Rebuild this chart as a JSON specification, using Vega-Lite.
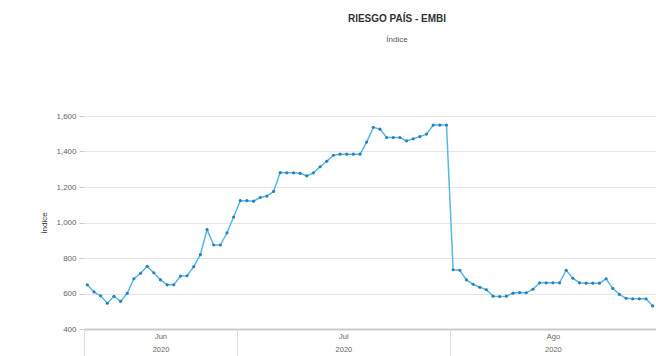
{
  "$schema": "https://vega.github.io/schema/vega-lite/v6.json",
  "width": 572,
  "height": 213,
  "autosize": {"type": "none"},
  "padding": {"left": 84, "top": 116, "right": 0, "bottom": 27},
  "background": "white",
  "config": {"font": "Liberation Sans", "view": {"stroke": null}},
  "title": {
    "text": "RIESGO PAÍS - EMBI",
    "subtitle": "Índice",
    "fontSize": 10,
    "fontWeight": "bold",
    "color": "#333333",
    "subtitleFontSize": 8,
    "subtitleColor": "#555555",
    "offset": 68,
    "subtitlePadding": 12,
    "dx": 27,
    "anchor": "middle",
    "font": "Liberation Sans",
    "subtitleFont": "Liberation Sans"
  },
  "data": {
    "values": [
      {"i": 0, "v": 649}, {"i": 1, "v": 609}, {"i": 2, "v": 587}, {"i": 3, "v": 545},
      {"i": 4, "v": 584}, {"i": 5, "v": 556}, {"i": 6, "v": 601}, {"i": 7, "v": 683},
      {"i": 8, "v": 714}, {"i": 9, "v": 753}, {"i": 10, "v": 717}, {"i": 11, "v": 677},
      {"i": 12, "v": 649}, {"i": 13, "v": 649}, {"i": 14, "v": 698}, {"i": 15, "v": 700},
      {"i": 16, "v": 751}, {"i": 17, "v": 819}, {"i": 18, "v": 960}, {"i": 19, "v": 873},
      {"i": 20, "v": 873}, {"i": 21, "v": 942}, {"i": 22, "v": 1031}, {"i": 23, "v": 1123},
      {"i": 24, "v": 1123}, {"i": 25, "v": 1120}, {"i": 26, "v": 1141}, {"i": 27, "v": 1149},
      {"i": 28, "v": 1175}, {"i": 29, "v": 1281}, {"i": 30, "v": 1280}, {"i": 31, "v": 1280},
      {"i": 32, "v": 1277}, {"i": 33, "v": 1263}, {"i": 34, "v": 1280}, {"i": 35, "v": 1314},
      {"i": 36, "v": 1345}, {"i": 37, "v": 1379}, {"i": 38, "v": 1385}, {"i": 39, "v": 1385},
      {"i": 40, "v": 1385}, {"i": 41, "v": 1385}, {"i": 42, "v": 1453}, {"i": 43, "v": 1536},
      {"i": 44, "v": 1526}, {"i": 45, "v": 1479}, {"i": 46, "v": 1479}, {"i": 47, "v": 1479},
      {"i": 48, "v": 1460}, {"i": 49, "v": 1472}, {"i": 50, "v": 1484}, {"i": 51, "v": 1498},
      {"i": 52, "v": 1549}, {"i": 53, "v": 1549}, {"i": 54, "v": 1549}, {"i": 55, "v": 734},
      {"i": 56, "v": 731}, {"i": 57, "v": 677}, {"i": 58, "v": 652}, {"i": 59, "v": 635},
      {"i": 60, "v": 621}, {"i": 61, "v": 585}, {"i": 62, "v": 583}, {"i": 63, "v": 585},
      {"i": 64, "v": 602}, {"i": 65, "v": 605}, {"i": 66, "v": 604}, {"i": 67, "v": 624},
      {"i": 68, "v": 660}, {"i": 69, "v": 660}, {"i": 70, "v": 660}, {"i": 71, "v": 660},
      {"i": 72, "v": 731}, {"i": 73, "v": 686}, {"i": 74, "v": 660}, {"i": 75, "v": 658},
      {"i": 76, "v": 658}, {"i": 77, "v": 658}, {"i": 78, "v": 683}, {"i": 79, "v": 629},
      {"i": 80, "v": 595}, {"i": 81, "v": 573}, {"i": 82, "v": 570}, {"i": 83, "v": 570},
      {"i": 84, "v": 570}, {"i": 85, "v": 530}
    ]
  },
  "encoding": {
    "y": {
      "field": "v",
      "type": "quantitative",
      "scale": {"domain": [400, 1600], "nice": false, "zero": false},
      "axis": {
        "values": [400, 600, 800, 1000, 1200, 1400, 1600],
        "format": ",.0f",
        "title": "Índice",
        "titleFontSize": 8,
        "titleFontWeight": "normal",
        "titleColor": "#333333",
        "titlePadding": 7,
        "labelFontSize": 8,
        "labelColor": "#666666",
        "labelPadding": 3,
        "tickSize": 5,
        "tickColor": "#cccccc",
        "domain": false,
        "grid": true,
        "gridColor": "#e6e6e6"
      }
    }
  },
  "layer": [
    {
      "mark": {"type": "line", "color": "#55b8e6", "strokeWidth": 1.5},
      "encoding": {
        "x": {
          "field": "i",
          "type": "quantitative",
          "scale": {"domain": [-0.5, 85.5], "nice": false, "zero": false},
          "axis": {
            "orient": "bottom",
            "values": [11, 38.5, 70],
            "labelExpr": "datum.value < 20 ? ['Jun', '2020'] : datum.value < 50 ? ['Jul', '2020'] : ['Ago', '2020']",
            "ticks": false,
            "grid": false,
            "domainColor": "#cccccc",
            "domainWidth": 2,
            "labelFontSize": 7.5,
            "labelColor": "#666666",
            "labelPadding": 3,
            "labelLineHeight": 13,
            "labelFlush": false,
            "labelOverlap": false,
            "title": null
          }
        }
      }
    },
    {
      "mark": {"type": "point", "filled": true, "color": "#2c7fb8", "size": 10, "opacity": 1},
      "encoding": {
        "x": {
          "field": "i",
          "type": "quantitative",
          "axis": {
            "orient": "bottom",
            "values": [-0.5, 22.5, 54.5, 85.5],
            "labels": false,
            "domain": false,
            "grid": false,
            "ticks": true,
            "tickSize": 27,
            "tickColor": "#dddddd",
            "title": null
          }
        }
      }
    }
  ],
  "resolve": {"axis": {"x": "independent"}}
}
